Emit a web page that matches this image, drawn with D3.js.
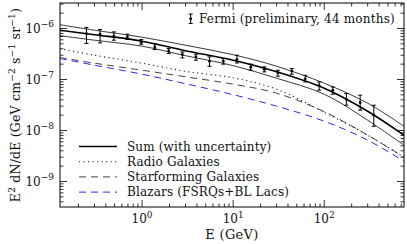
<!DOCTYPE html>
<html><head><meta charset="utf-8">
<script src="https://cdn.jsdelivr.net/npm/d3@7"></script>
<style>body{margin:0;background:#fff}svg{display:block}</style>
</head><body><svg id="c" width="407" height="244" font-family="'DejaVu Serif', serif"></svg>
<script>
// Fermi data points (GeV, E^2 dN/dE)
const energies = [0.245,0.346,0.49,0.69,0.98,1.38,1.96,2.77,3.9,5.5,7.8,11.0,15.6,22,31,44,62,88,124,175,248,350];
const flux = [7.97e-7,7.73e-7,7.06e-7,6.85e-7,5.38e-7,4.36e-7,3.64e-7,3.09e-7,2.77e-7,2.29e-7,2.29e-7,2.47e-7,1.74e-7,1.58e-7,1.35e-7,1.46e-7,1.03e-7,7.55e-8,6.17e-8,4.06e-8,3.51e-8,2.00e-8];
const fluxHi = [1.05e-6,9.55e-7,8.58e-7,7.73e-7,6.09e-7,5.08e-7,4.06e-7,3.47e-7,3.13e-7,2.77e-7,2.58e-7,2.99e-7,2.00e-7,1.77e-7,1.52e-7,1.64e-7,1.21e-7,8.97e-8,7.16e-8,5.31e-8,4.92e-8,3.13e-8];
const fluxLo = [5.08e-7,5.22e-7,5.90e-7,6.09e-7,4.92e-7,3.87e-7,3.24e-7,2.65e-7,2.39e-7,1.82e-7,2.00e-7,2.11e-7,1.52e-7,1.41e-7,1.16e-7,1.27e-7,8.97e-8,6.17e-8,5.15e-8,3.13e-8,2.50e-8,1.21e-8];
// model curves
const modelE = [0.125,0.3,1,3,10,30,100,300,750];
const sumMid = [9.26e-7,7.56e-7,5.64e-7,3.67e-7,2.39e-7,1.42e-7,6.75e-8,2.39e-8,8.09e-9];
const sumHi = [1.187e-6,9.26e-7,6.75e-7,4.70e-7,3.06e-7,1.82e-7,8.46e-8,3.43e-8,1.21e-8];
const sumLo = [7.23e-7,5.90e-7,4.50e-7,2.93e-7,1.87e-7,1.06e-7,5.15e-8,1.59e-8,5.15e-9];
const radio = [4.05e-7,2.99e-7,2.09e-7,1.45e-7,1.08e-7,6.45e-8,2.28e-8,8.09e-9,3.00e-9];
const starforming = [2.70e-7,2.09e-7,1.52e-7,1.13e-7,8.09e-8,5.39e-8,2.34e-8,8.09e-9,3.00e-9];
const blazars = [2.58e-7,1.91e-7,1.27e-7,8.27e-8,5.04e-8,3.00e-8,1.52e-8,6.46e-9,2.50e-9];
const legendLabels = ["Sum (with uncertainty)","Radio Galaxies","Starforming Galaxies","Blazars (FSRQs+BL Lacs)"];
const xTickExp = [0,1,2];
const yTickExp = [-6,-7,-8,-9];

const svg = d3.select("#c");
const L=60, R=404, T=3, B=207;
const x = d3.scaleLog().domain([0.1256,751]).range([L,R]);
const y = d3.scaleLog().domain([Math.pow(10,-9.5),Math.pow(10,-5.5)]).range([B,T]);

// curves
const line = d3.line().x(d=>x(d[0])).y(d=>y(d[1])).curve(d3.curveCatmullRom.alpha(0.5));
svg.append("clipPath").attr("id","pc").append("rect").attr("x",L).attr("y",T).attr("width",R-L).attr("height",B-T);
const g = svg.append("g").attr("clip-path","url(#pc)");
const styles = [
  {d:sumHi, c:"#222", w:0.9, da:null},
  {d:sumLo, c:"#222", w:0.9, da:null},
  {d:sumMid, c:"#000", w:1.6, da:null},
  {d:radio, c:"#222", w:1.1, da:"1.2,3.3"},
  {d:starforming, c:"#444", w:1, da:"7,5"},
  {d:blazars, c:"#2a2aee", w:1, da:"7,5"}
];
styles.forEach(s=>{
  g.append("path").attr("d",line(modelE.map((e,i)=>[e,s.d[i]])))
   .attr("fill","none").attr("stroke",s.c).attr("stroke-width",s.w)
   .attr("stroke-dasharray",s.da);
});

// data points
const pts = svg.append("g");
energies.forEach((e,i)=>{
  const cx=x(e), y1=y(fluxHi[i]), y2=y(fluxLo[i]);
  pts.append("line").attr("x1",cx).attr("x2",cx).attr("y1",y1).attr("y2",y2).attr("stroke","#000").attr("stroke-width",1);
  [y1,y2].forEach(yy=>pts.append("line").attr("x1",cx-2).attr("x2",cx+2).attr("y1",yy).attr("y2",yy).attr("stroke","#000").attr("stroke-width",1));
  pts.append("circle").attr("cx",cx).attr("cy",y(flux[i])).attr("r",1.4).attr("fill","#000");
});

// frame
svg.append("rect").attr("x",L).attr("y",T).attr("width",R-L).attr("height",B-T).attr("fill","none").attr("stroke","#000").attr("stroke-width",1);

// ticks
const tk = svg.append("g").attr("stroke","#000").attr("stroke-width",0.8);
const xd = x.domain(), yd = y.domain();
for(let p=-1;p<=2;p++) for(let m=1;m<=9;m++){
  const v=m*Math.pow(10,p); if(v<xd[0]||v>xd[1]) continue;
  const len = m===1?7:3.5, px=x(v);
  tk.append("line").attr("x1",px).attr("x2",px).attr("y1",B).attr("y2",B-len);
  tk.append("line").attr("x1",px).attr("x2",px).attr("y1",T).attr("y2",T+len);
}
for(let p=-10;p<=-5;p++) for(let m=1;m<=9;m++){
  const v=m*Math.pow(10,p); if(v<yd[0]||v>yd[1]) continue;
  const len = m===1?7:3.5, py=y(v);
  tk.append("line").attr("x1",L).attr("x2",L+len).attr("y1",py).attr("y2",py);
  tk.append("line").attr("x1",R).attr("x2",R-len).attr("y1",py).attr("y2",py);
}

// tick labels
xTickExp.forEach(p=>{
  const t=svg.append("text").attr("x",x(Math.pow(10,p))).attr("y",223).attr("text-anchor","middle").attr("font-size",12).attr("fill","#111");
  t.append("tspan").text("10");
  t.append("tspan").attr("dy",-5.5).attr("font-size",9).text(String(p));
});
yTickExp.forEach(p=>{
  const t=svg.append("text").attr("x",54).attr("y",y(Math.pow(10,p))+4).attr("text-anchor","end").attr("font-size",12).attr("fill","#111");
  t.append("tspan").text("10");
  t.append("tspan").attr("dy",-5.5).attr("font-size",9).text("\u2212"+String(-p));
});

// axis titles
svg.append("text").attr("x",(L+R)/2).attr("y",239).attr("text-anchor","middle").attr("font-size",13).attr("letter-spacing",0.3).attr("fill","#111").text("E (GeV)");
const yl = svg.append("text").attr("transform","translate(20,105) rotate(-90)").attr("text-anchor","middle").attr("font-size",12.5).attr("letter-spacing",0.2).attr("fill","#111");
yl.append("tspan").text("E");
yl.append("tspan").attr("dy",-5.5).attr("font-size",9).text("2");
yl.append("tspan").attr("dy",5.5).text(" dN/dE (GeV cm");
yl.append("tspan").attr("dy",-5.5).attr("font-size",9).text("\u22122");
yl.append("tspan").attr("dy",5.5).text(" s");
yl.append("tspan").attr("dy",-5.5).attr("font-size",9).text("\u22121");
yl.append("tspan").attr("dy",5.5).text(" sr");
yl.append("tspan").attr("dy",-5.5).attr("font-size",9).text("\u22121");
yl.append("tspan").attr("dy",5.5).text(")");

// Fermi label
const fx=190.7;
svg.append("line").attr("x1",fx).attr("x2",fx).attr("y1",14).attr("y2",23.5).attr("stroke","#000");
[14,23.5].forEach(yy=>svg.append("line").attr("x1",fx-2).attr("x2",fx+2).attr("y1",yy).attr("y2",yy).attr("stroke","#000"));
svg.append("circle").attr("cx",fx).attr("cy",18.8).attr("r",1.4).attr("fill","#000");
svg.append("text").attr("x",199).attr("y",23).attr("font-size",12).attr("letter-spacing",0.2).attr("fill","#111").text("Fermi (preliminary, 44 months)");

// legend
const legStyles = [styles[2],styles[3],styles[4],styles[5]];
legendLabels.forEach((lab,i)=>{
  const ly = 146.5 + i*15.2;
  svg.append("line").attr("x1",79).attr("x2",117).attr("y1",ly).attr("y2",ly)
    .attr("stroke",legStyles[i].c).attr("stroke-width",legStyles[i].w===1.6?1.3:1).attr("stroke-dasharray",legStyles[i].da);
  svg.append("text").attr("x",127).attr("y",ly+4).attr("font-size",12).attr("letter-spacing",0.15).attr("fill","#111").text(lab);
});
</script></body></html>
